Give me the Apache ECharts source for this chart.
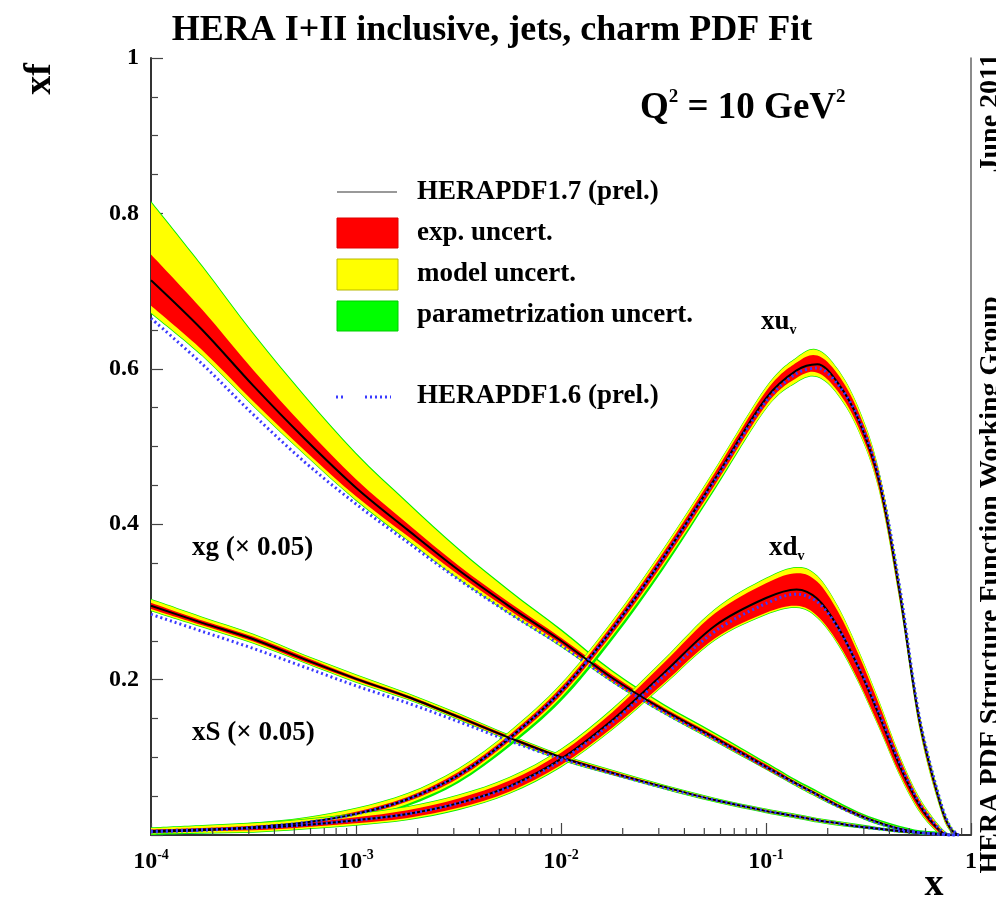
<!DOCTYPE html>
<html><head><meta charset="utf-8">
<script src="https://cdn.jsdelivr.net/npm/echarts@6/dist/echarts.min.js"></script>
<style>html,body{margin:0;padding:0;background:#fff}#c{width:996px;height:900px}</style>
</head><body><div id="c"></div>
<script>
// ---- x grid (Bjorken x) ----
const xs = [0.0001, 0.000178, 0.000316, 0.000562, 0.001, 0.00178, 0.00316, 0.00562, 0.01, 0.0178, 0.0316, 0.0562, 0.1, 0.141, 0.178, 0.224, 0.282, 0.355, 0.447, 0.562, 0.708, 0.794, 0.871];

// ---- xg (x 0.05) ----
const xgCentral = [0.714, 0.650, 0.578, 0.510, 0.447, 0.393, 0.341, 0.294, 0.250, 0.202, 0.161, 0.125, 0.088, 0.066, 0.052, 0.038, 0.026, 0.016, 0.008, 0.003, 0.001, 0.0, 0.0];
const xgExp   = [0.033, 0.026, 0.020, 0.015, 0.011, 0.008, 0.006, 0.005, 0.004, 0.004, 0.003, 0.003, 0.003, 0.002, 0.002, 0.002, 0.002, 0.001, 0.001, 0.001, 0.001, 0, 0];
const xgModUp = [0.100, 0.081, 0.066, 0.054, 0.043, 0.034, 0.026, 0.019, 0.013, 0.008, 0.006, 0.005, 0.004, 0.003, 0.003, 0.003, 0.002, 0.002, 0.002, 0.001, 0.001, 0, 0];
const xgModDn = [0.042, 0.033, 0.026, 0.020, 0.016, 0.013, 0.011, 0.009, 0.007, 0.005, 0.004, 0.004, 0.003, 0.003, 0.003, 0.002, 0.002, 0.002, 0.001, 0.001, 0.001, 0, 0];
const xgParUp = [0.102, 0.083, 0.068, 0.056, 0.045, 0.036, 0.028, 0.021, 0.015, 0.010, 0.008, 0.007, 0.006, 0.005, 0.005, 0.005, 0.004, 0.004, 0.004, 0.003, 0.003, 0.001, 0];
const xgParDn = [0.043, 0.034, 0.027, 0.021, 0.017, 0.014, 0.012, 0.010, 0.008, 0.006, 0.005, 0.005, 0.004, 0.004, 0.004, 0.003, 0.003, 0.003, 0.002, 0.002, 0.002, 0.001, 0];
const xgOld   = [0.665, 0.606, 0.541, 0.480, 0.426, 0.377, 0.329, 0.285, 0.244, 0.198, 0.158, 0.123, 0.087, 0.065, 0.051, 0.037, 0.025, 0.015, 0.008, 0.003, 0.001, 0, 0];

// ---- xS (x 0.05) ----
const xsCentral = [0.295, 0.273, 0.252, 0.226, 0.201, 0.178, 0.152, 0.125, 0.100, 0.080, 0.062, 0.045, 0.031, 0.024, 0.019, 0.015, 0.011, 0.008, 0.005, 0.003, 0.001, 0, 0];
const xsExp   = [0.004, 0.003, 0.003, 0.003, 0.002, 0.002, 0.002, 0.002, 0.002, 0.002, 0.001, 0.001, 0.001, 0.001, 0.001, 0.001, 0.001, 0.001, 0.001, 0.001, 0.001, 0, 0];
const xsModUp = [0.008, 0.007, 0.006, 0.005, 0.005, 0.004, 0.004, 0.003, 0.003, 0.003, 0.002, 0.002, 0.002, 0.002, 0.002, 0.002, 0.002, 0.001, 0.001, 0.001, 0.001, 0, 0];
const xsModDn = [0.006, 0.005, 0.005, 0.004, 0.004, 0.003, 0.003, 0.003, 0.003, 0.002, 0.002, 0.002, 0.002, 0.002, 0.002, 0.002, 0.001, 0.001, 0.001, 0.001, 0.001, 0, 0];
const xsParUp = [0.009, 0.008, 0.007, 0.006, 0.006, 0.005, 0.005, 0.004, 0.004, 0.004, 0.003, 0.003, 0.003, 0.003, 0.003, 0.003, 0.003, 0.002, 0.002, 0.002, 0.002, 0.001, 0];
const xsParDn = [0.007, 0.006, 0.006, 0.005, 0.005, 0.004, 0.004, 0.004, 0.004, 0.003, 0.003, 0.003, 0.003, 0.003, 0.003, 0.003, 0.002, 0.002, 0.002, 0.002, 0.002, 0.001, 0];
const xsOld   = [0.284, 0.262, 0.240, 0.216, 0.192, 0.170, 0.146, 0.121, 0.098, 0.079, 0.061, 0.045, 0.031, 0.024, 0.019, 0.015, 0.011, 0.008, 0.005, 0.003, 0.001, 0, 0];

// ---- xu_v ----
const xuCentral = [0.004, 0.006, 0.010, 0.016, 0.027, 0.046, 0.077, 0.125, 0.185, 0.265, 0.357, 0.458, 0.562, 0.598, 0.606, 0.582, 0.535, 0.457, 0.315, 0.145, 0.040, 0.008, 0.0];
const xuExp   = [0.001, 0.001, 0.002, 0.002, 0.003, 0.003, 0.004, 0.004, 0.005, 0.006, 0.007, 0.008, 0.009, 0.010, 0.011, 0.011, 0.010, 0.009, 0.008, 0.006, 0.004, 0.002, 0];
const xuModUp = [0.004, 0.004, 0.005, 0.006, 0.007, 0.007, 0.008, 0.008, 0.009, 0.010, 0.011, 0.012, 0.014, 0.016, 0.018, 0.017, 0.015, 0.013, 0.012, 0.010, 0.007, 0.004, 0];
const xuModDn = [0.003, 0.003, 0.004, 0.005, 0.006, 0.006, 0.007, 0.007, 0.008, 0.009, 0.010, 0.011, 0.013, 0.015, 0.016, 0.015, 0.014, 0.012, 0.011, 0.009, 0.006, 0.003, 0];
const xuParUp = [0.005, 0.005, 0.006, 0.007, 0.008, 0.008, 0.009, 0.009, 0.010, 0.011, 0.012, 0.013, 0.015, 0.017, 0.019, 0.018, 0.016, 0.014, 0.013, 0.011, 0.008, 0.005, 0];
const xuParDn = [0.004, 0.004, 0.005, 0.006, 0.008, 0.009, 0.010, 0.011, 0.013, 0.014, 0.015, 0.014, 0.014, 0.016, 0.017, 0.016, 0.015, 0.013, 0.012, 0.010, 0.007, 0.004, 0];
const xuOld   = [0.004, 0.006, 0.010, 0.016, 0.027, 0.046, 0.077, 0.125, 0.185, 0.265, 0.357, 0.456, 0.558, 0.594, 0.601, 0.580, 0.537, 0.462, 0.322, 0.150, 0.044, 0.010, 0];

// ---- xd_v ----
const xdCentral = [0.005, 0.007, 0.009, 0.013, 0.019, 0.027, 0.041, 0.063, 0.098, 0.148, 0.208, 0.269, 0.305, 0.316, 0.304, 0.268, 0.216, 0.155, 0.090, 0.038, 0.005, 0, 0];
const xdExp   = [0.002, 0.002, 0.003, 0.003, 0.004, 0.005, 0.006, 0.007, 0.008, 0.010, 0.013, 0.016, 0.019, 0.021, 0.022, 0.020, 0.017, 0.014, 0.010, 0.006, 0.003, 0, 0];
const xdModUp = [0.004, 0.005, 0.006, 0.007, 0.008, 0.009, 0.010, 0.011, 0.012, 0.014, 0.017, 0.021, 0.025, 0.028, 0.029, 0.026, 0.022, 0.018, 0.013, 0.009, 0.005, 0, 0];
const xdModDn = [0.003, 0.004, 0.005, 0.005, 0.006, 0.007, 0.008, 0.009, 0.010, 0.012, 0.015, 0.018, 0.021, 0.023, 0.024, 0.022, 0.019, 0.016, 0.012, 0.008, 0.004, 0, 0];
const xdParUp = [0.005, 0.006, 0.007, 0.008, 0.009, 0.010, 0.011, 0.012, 0.013, 0.015, 0.018, 0.022, 0.026, 0.029, 0.030, 0.027, 0.023, 0.019, 0.014, 0.010, 0.006, 0.001, 0];
const xdParDn = [0.004, 0.005, 0.006, 0.006, 0.007, 0.008, 0.009, 0.010, 0.011, 0.013, 0.016, 0.019, 0.022, 0.024, 0.025, 0.023, 0.020, 0.017, 0.013, 0.009, 0.005, 0.001, 0];
const xdOld   = [0.005, 0.007, 0.009, 0.013, 0.019, 0.027, 0.041, 0.062, 0.096, 0.145, 0.204, 0.262, 0.298, 0.310, 0.300, 0.267, 0.217, 0.158, 0.094, 0.041, 0.007, 0, 0];

// ---- axis ticks ----
const xMinorTicks = [0.0002,0.0003,0.0004,0.0005,0.0006,0.0007,0.0008,0.0009,0.002,0.003,0.004,0.005,0.006,0.007,0.008,0.009,0.02,0.03,0.04,0.05,0.06,0.07,0.08,0.09,0.2,0.3,0.4,0.5,0.6,0.7,0.8,0.9];

const SERIF = '"Liberation Serif","DejaVu Serif",serif';
const RED = '#ff0000', YEL = '#ffff00', GRN = '#00ee00', BLUE = '#3a3aff';

function smoothPath(pts, first) {
  let d = (first ? 'M' : 'L') + pts[0][0] + ' ' + pts[0][1];
  const t = 1 / 6;
  for (let i = 0; i < pts.length - 1; i++) {
    const p0 = pts[Math.max(i - 1, 0)], p1 = pts[i], p2 = pts[i + 1], p3 = pts[Math.min(i + 2, pts.length - 1)];
    const c1x = p1[0] + (p2[0] - p0[0]) * t, c1y = p1[1] + (p2[1] - p0[1]) * t;
    const c2x = p2[0] - (p3[0] - p1[0]) * t, c2y = p2[1] - (p3[1] - p1[1]) * t;
    d += ' C' + c1x + ' ' + c1y + ' ' + c2x + ' ' + c2y + ' ' + p2[0] + ' ' + p2[1];
  }
  return d;
}

function band(central, up, dn, color, z) {
  const data = xs.map((x, i) => [x, central[i] - dn[i], central[i] + up[i]]);
  return {
    type: 'custom', z: z, silent: true, clip: true,
    data: data,
    encode: { x: 0, y: [1, 2] },
    renderItem: function (params, api) {
      if (params.dataIndex !== 0) return null;
      const top = data.map(d => api.coord([d[0], d[2]]));
      const bot = data.map(d => api.coord([d[0], d[1]])).reverse();
      const path = smoothPath(top, true) + ' ' + smoothPath(bot, false) + ' Z';
      return { type: 'path', shape: { pathData: path }, style: { fill: color, stroke: null } };
    }
  };
}

function centralLine(vals) {
  return { type: 'line', data: xs.map((x, i) => [x, vals[i]]), symbol: 'none', smooth: 0.33, z: 5, silent: true,
    lineStyle: { color: '#000', width: 2 } };
}
function oldLine(vals) {
  return { type: 'line', data: xs.map((x, i) => [x, vals[i]]), symbol: 'none', smooth: 0.33, z: 6, silent: true,
    lineStyle: { color: BLUE, width: 3, type: [2, 3] } };
}

const series = [];
[[xgCentral, xgExp, xgModUp, xgModDn, xgParUp, xgParDn],
 [xsCentral, xsExp, xsModUp, xsModDn, xsParUp, xsParDn],
 [xuCentral, xuExp, xuModUp, xuModDn, xuParUp, xuParDn],
 [xdCentral, xdExp, xdModUp, xdModDn, xdParUp, xdParDn]].forEach(c => {
  series.push(band(c[0], c[4], c[5], GRN, 2));
  series.push(band(c[0], c[2], c[3], YEL, 2));
  series.push(band(c[0], c[1], c[1], RED, 2));
});
[xgCentral, xsCentral, xuCentral, xdCentral].forEach(v => series.push(centralLine(v)));
[xgOld, xsOld, xuOld, xdOld].forEach(v => series.push(oldLine(v)));

// minor ticks on log x axis
series.push({
  type: 'custom', z: 7, silent: true, clip: false,
  data: xMinorTicks.map(v => [v, 0]),
  encode: { x: 0, y: 1 },
  renderItem: function (params, api) {
    const p = api.coord([api.value(0), 0]);
    return { type: 'line', shape: { x1: p[0], y1: p[1], x2: p[0], y2: p[1] - 7 }, style: { stroke: '#444', lineWidth: 1.2 } };
  }
});

const chart = echarts.init(document.getElementById('c'), null, { renderer: 'canvas' });
chart.setOption({
  animation: false,
  backgroundColor: '#fff',
  grid: { left: 151, right: 25, top: 58, bottom: 65 },
  xAxis: {
    type: 'log', logBase: 10, min: 0.0001, max: 1,
    axisLine: { show: true, lineStyle: { color: '#333', width: 2 } },
    axisTick: { show: true, inside: true, length: 12, lineStyle: { color: '#444', width: 1.2 } },
    splitLine: { show: false },
    axisLabel: {
      margin: 13,
      formatter: function (v) {
        const e = Math.round(Math.log10(v));
        return e === 0 ? '{a|1}' : '{a|10}{b|' + e + '}';
      },
      rich: {
        a: { fontFamily: SERIF, fontWeight: 'bold', fontSize: 24, color: '#000', lineHeight: 28 },
        b: { fontFamily: SERIF, fontWeight: 'bold', fontSize: 14, color: '#000', verticalAlign: 'top', lineHeight: 28 }
      }
    }
  },
  yAxis: [{
    type: 'value', min: 0, max: 1, interval: 0.2,
    axisLine: { show: true, lineStyle: { color: '#333', width: 2 } },
    axisTick: { show: true, inside: true, length: 12, lineStyle: { color: '#444', width: 1.2 } },
    minorTick: { show: true, splitNumber: 4, length: 7, lineStyle: { color: '#444', width: 1.2 } },
    splitLine: { show: false },
    axisLabel: {
      margin: 12, fontFamily: SERIF, fontWeight: 'bold', fontSize: 24, color: '#000',
      formatter: function (v) { return v === 0 ? '' : (v === 1 ? '1' : v.toFixed(1)); }
    }
  }, {
    type: 'value', min: 0, max: 1, position: 'right',
    axisLine: { show: true, lineStyle: { color: '#666', width: 1.5 } },
    axisTick: { show: false }, axisLabel: { show: false }, splitLine: { show: false }
  }],
  series: series,
  graphic: [
    { type: 'text', z: 100, style: { text: 'HERA I+II inclusive, jets, charm PDF Fit', x: 492, y: 31, font: 'bold 36px ' + SERIF, fill: '#000', align: 'center', verticalAlign: 'middle', textAlign: 'center', textVerticalAlign: 'middle' } },
    { type: 'text', z: 100, x: 40, y: 79, rotation: Math.PI / 2, style: { text: 'xf', x: 0, y: 0, font: 'bold 38px ' + SERIF, fill: '#000', align: 'center', verticalAlign: 'middle', textAlign: 'center', textVerticalAlign: 'middle' } },
    { type: 'text', z: 100, style: { text: '{a|Q}{s|2}{a| = 10 GeV}{s|2}', x: 640, y: 108, fill: '#000', verticalAlign: 'middle', textVerticalAlign: 'middle',
      rich: { a: { fontFamily: SERIF, fontWeight: 'bold', fontSize: 37, lineHeight: 40 }, s: { fontFamily: SERIF, fontWeight: 'bold', fontSize: 19, verticalAlign: 'top', lineHeight: 40 } } } },
    // legend
    { type: 'line', z: 100, shape: { x1: 337, y1: 192, x2: 397, y2: 192 }, style: { stroke: '#999', lineWidth: 2 } },
    { type: 'rect', z: 100, shape: { x: 337, y: 218, width: 61, height: 30 }, style: { fill: RED, stroke: '#d00', lineWidth: 1 } },
    { type: 'rect', z: 100, shape: { x: 337, y: 259, width: 61, height: 31 }, style: { fill: YEL, stroke: '#b8b800', lineWidth: 1 } },
    { type: 'rect', z: 100, shape: { x: 337, y: 301, width: 61, height: 30 }, style: { fill: '#00ff00', stroke: '#0c0', lineWidth: 1 } },
    { type: 'line', z: 100, shape: { x1: 336, y1: 397, x2: 344, y2: 397 }, style: { stroke: BLUE, lineWidth: 3, lineDash: [2, 3] } },
    { type: 'line', z: 100, shape: { x1: 365, y1: 397, x2: 391, y2: 397 }, style: { stroke: BLUE, lineWidth: 3, lineDash: [2, 3] } },
    { type: 'text', z: 100, style: { text: 'HERAPDF1.7 (prel.)', x: 417, y: 192, font: 'bold 27px ' + SERIF, fill: '#000', verticalAlign: 'middle', textVerticalAlign: 'middle' } },
    { type: 'text', z: 100, style: { text: 'exp. uncert.', x: 417, y: 233, font: 'bold 27px ' + SERIF, fill: '#000', verticalAlign: 'middle', textVerticalAlign: 'middle' } },
    { type: 'text', z: 100, style: { text: 'model uncert.', x: 417, y: 274, font: 'bold 27px ' + SERIF, fill: '#000', verticalAlign: 'middle', textVerticalAlign: 'middle' } },
    { type: 'text', z: 100, style: { text: 'parametrization uncert.', x: 417, y: 315, font: 'bold 27px ' + SERIF, fill: '#000', verticalAlign: 'middle', textVerticalAlign: 'middle' } },
    { type: 'text', z: 100, style: { text: 'HERAPDF1.6 (prel.)', x: 417, y: 396, font: 'bold 27px ' + SERIF, fill: '#000', verticalAlign: 'middle', textVerticalAlign: 'middle' } },
    // curve labels
    { type: 'text', z: 100, style: { text: '{a|xu}{v|v}', x: 761, y: 322, fill: '#000', verticalAlign: 'middle', textVerticalAlign: 'middle',
      rich: { a: { fontFamily: SERIF, fontWeight: 'bold', fontSize: 27, lineHeight: 30 }, v: { fontFamily: SERIF, fontWeight: 'bold', fontSize: 14, verticalAlign: 'bottom', lineHeight: 30 } } } },
    { type: 'text', z: 100, style: { text: '{a|xd}{v|v}', x: 769, y: 548, fill: '#000', verticalAlign: 'middle', textVerticalAlign: 'middle',
      rich: { a: { fontFamily: SERIF, fontWeight: 'bold', fontSize: 27, lineHeight: 30 }, v: { fontFamily: SERIF, fontWeight: 'bold', fontSize: 14, verticalAlign: 'bottom', lineHeight: 30 } } } },
    { type: 'text', z: 100, style: { text: 'xg (\u00d7 0.05)', x: 192, y: 548, font: 'bold 27px ' + SERIF, fill: '#000', verticalAlign: 'middle', textVerticalAlign: 'middle' } },
    { type: 'text', z: 100, style: { text: 'xS (\u00d7 0.05)', x: 192, y: 733, font: 'bold 27px ' + SERIF, fill: '#000', verticalAlign: 'middle', textVerticalAlign: 'middle' } },
    // axis title x
    { type: 'text', z: 100, style: { text: 'x', x: 934, y: 885, font: 'bold 38px ' + SERIF, fill: '#000', align: 'center', verticalAlign: 'middle', textAlign: 'center', textVerticalAlign: 'middle' } },
    // right vertical texts
    { type: 'text', z: 100, x: 991, y: 585, rotation: Math.PI / 2, style: { text: 'HERA PDF Structure Function Working Group', x: 0, y: 0, font: 'bold 28px ' + SERIF, fill: '#000', align: 'center', verticalAlign: 'middle', textAlign: 'center', textVerticalAlign: 'middle' } },
    { type: 'text', z: 100, x: 991, y: 113, rotation: Math.PI / 2, style: { text: 'June 2011', x: 0, y: 0, font: 'bold 28px ' + SERIF, fill: '#000', align: 'center', verticalAlign: 'middle', textAlign: 'center', textVerticalAlign: 'middle' } }
  ]
});
</script>
</body></html>
